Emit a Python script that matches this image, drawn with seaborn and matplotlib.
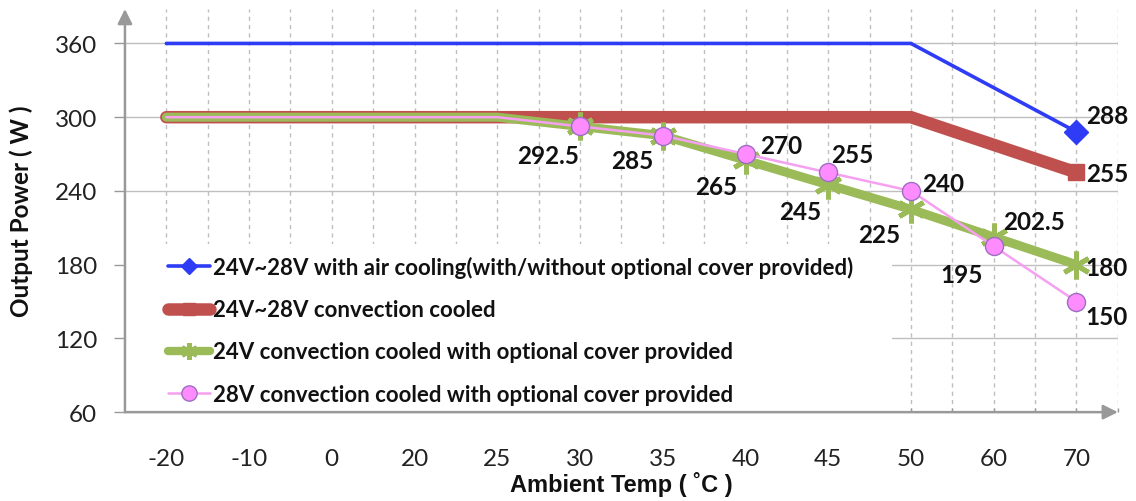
import pandas as pd
import matplotlib.pyplot as plt
import seaborn as sns
from matplotlib.lines import Line2D
from matplotlib.patches import Rectangle

# Data
temps = ["-20", "-10", "0", "20", "25", "30", "35", "40", "45", "50", "60", "70"]
air_cooled = [360, 360, 360, 360, 360, 360, 360, 360, 360, 360, 324, 288]
conv_cooled = [300, 300, 300, 300, 300, 300, 300, 300, 300, 300, 277.5, 255]
conv_24v_cover = [300, 300, 300, 300, 300, 292.5, 285, 265, 245, 225, 202.5, 180]
conv_28v_cover = [300, 300, 300, 300, 300, 292.5, 285, 270, 255, 240, 195, 150]

series_names = [
    "24V~28V with air cooling(with/without optional cover provided)",
    "24V~28V convection cooled",
    "24V convection cooled with optional cover provided",
    "28V convection cooled with optional cover provided",
]
y_ticks = [60, 120, 180, 240, 300, 360]

pos = list(range(len(temps)))

sns.set_theme(style="white")
plt.rcParams['font.family'] = ['Lato', 'DejaVu Sans']

fig = plt.figure(figsize=(11.36, 5.02), dpi=100)
ax = fig.add_axes([0.110, 0.177, 0.874, 0.803])

GRID = '#bfbfbf'
AXIS = '#999999'
BLUE = '#2f3cf5'
RED = '#c0504d'
GREEN = '#9bbb59'
PINK = '#ff8cff'
PINK_LINE = '#f5a0f0'
PINK_EDGE = '#9b6fc0'

df = pd.DataFrame({"pos": pos, "air": air_cooled, "conv": conv_cooled,
                   "c24": conv_24v_cover, "c28": conv_28v_cover})

styles = {
    "air": dict(color=BLUE, lw=2.6, marker='D', markersize=12, markevery=[11],
                markerfacecolor=BLUE, markeredgecolor=BLUE, markeredgewidth=1),
    "conv": dict(color=RED, lw=9, marker='s', markersize=12, markevery=[11],
                 markerfacecolor=RED, markeredgecolor=RED, markeredgewidth=1,
                 solid_capstyle='round', solid_joinstyle='miter'),
    "c24": dict(color=GREEN, lw=6.5, marker=(6, 2, 0), markersize=20,
                markevery=[5, 6, 7, 8, 9, 10, 11], markeredgecolor=GREEN,
                markerfacecolor=GREEN, markeredgewidth=3.5, solid_capstyle='round'),
    "c28": dict(color=PINK_LINE, lw=1.8, marker='o', markersize=13,
                markevery=[5, 6, 7, 8, 9, 10, 11], markerfacecolor=PINK,
                markeredgecolor=PINK_EDGE, markeredgewidth=1, solid_capstyle='round'),
}

for i, key in enumerate(["air", "conv", "c24", "c28"]):
    sns.lineplot(data=df, x="pos", y=key, ax=ax, zorder=3 + i, **styles[key])

# grid
ax.set_xlim(-0.5, 11.5)
ax.set_ylim(60, 388)
ax.set_yticks(y_ticks)
ax.set_xticks(pos)
ax.set_xticklabels(temps)
ax.set_xticks([p + 0.5 for p in pos], minor=True)
ax.grid(axis='y', which='major', color=GRID, lw=1, zorder=0)
ax.grid(axis='x', which='both', color=GRID, lw=1, ls=(0, (3, 3)), zorder=0)
ax.set_axisbelow(True)

# white area behind the legend hides the grid
ax.add_patch(Rectangle((0, 0), 0.773, 0.417, transform=ax.transAxes,
                       facecolor='white', edgecolor='none', zorder=1))

for s in ax.spines.values():
    s.set_visible(False)
ax.annotate('', xy=(0, 1.0), xytext=(0, 0), xycoords='axes fraction',
            arrowprops=dict(arrowstyle='-|>', color=AXIS, lw=1.8, mutation_scale=22,
                            shrinkA=0, shrinkB=0), annotation_clip=False, zorder=10)
ax.annotate('', xy=(1.0, 0), xytext=(0, 0), xycoords='axes fraction',
            arrowprops=dict(arrowstyle='-|>', color=AXIS, lw=1.8, mutation_scale=22,
                            shrinkA=0, shrinkB=0), annotation_clip=False, zorder=10)

ax.tick_params(axis='y', which='major', direction='out', length=8, width=1,
               color=AXIS, labelsize=17.5, pad=12, left=True)
ax.tick_params(axis='x', which='both', direction='in', length=3, width=1,
               color=AXIS, bottom=True)
ax.tick_params(axis='x', which='major', labelsize=17.5, pad=26)
for t in ax.get_xticklabels() + ax.get_yticklabels():
    t.set_color('#222222')

ax.set_xlabel("Ambient Temp ( ˚C )", fontsize=17, fontweight='bold',
              family=['Liberation Sans', 'DejaVu Sans'], labelpad=1, color='#111111')
ax.set_ylabel("Output Power ( W )", fontsize=17.5, fontweight='bold', labelpad=16,
              color='#111111')

# data labels
labels = [
    (11, air_cooled[11], "288", (22, 12)),
    (11, conv_cooled[11], "255", (22, -1)),
    (5, conv_24v_cover[5], "292.5", (-23, -21)),
    (6, conv_24v_cover[6], "285", (-22, -18)),
    (7, conv_24v_cover[7], "265", (-21, -19)),
    (8, conv_24v_cover[8], "245", (-20, -19)),
    (9, conv_24v_cover[9], "225", (-23, -18)),
    (10, conv_24v_cover[10], "202.5", (29, 11)),
    (11, conv_24v_cover[11], "180", (22, -2)),
    (7, conv_28v_cover[7], "270", (26, 6)),
    (8, conv_28v_cover[8], "255", (17, 13)),
    (9, conv_28v_cover[9], "240", (23, 5)),
    (10, conv_28v_cover[10], "195", (-23, -20)),
    (11, conv_28v_cover[11], "150", (22, -11)),
]
for x, y, txt, off in labels:
    ax.annotate(txt, (x, y), xytext=off, textcoords='offset points',
                ha='center', va='center', fontsize=17.5, fontweight='bold',
                color='#111111', zorder=20)

# legend
handles = [
    Line2D([], [], color=BLUE, lw=2.6, marker='D', markersize=8,
           markerfacecolor=BLUE, markeredgecolor=BLUE),
    Line2D([], [], color=RED, lw=9, marker='s', markersize=9,
           markerfacecolor=RED, markeredgecolor=RED, solid_capstyle='round'),
    Line2D([], [], color=GREEN, lw=6, marker=(6, 2, 0), markersize=12,
           markeredgecolor=GREEN, markeredgewidth=3, solid_capstyle='round'),
    Line2D([], [], color=PINK_LINE, lw=1.8, marker='o', markersize=11,
           markerfacecolor=PINK, markeredgecolor=PINK_EDGE, markeredgewidth=1),
]
leg = ax.legend(handles, series_names, loc='upper left',
                bbox_to_anchor=(0.043, 0.387), frameon=False, borderpad=0,
                borderaxespad=0, handlelength=1.9, handletextpad=0.15,
                labelspacing=0.95, prop=dict(weight='bold', size=16))
leg.set_zorder(15)
for t in leg.get_texts():
    t.set_color('#111111')

fig.savefig('out.png', dpi=100)
